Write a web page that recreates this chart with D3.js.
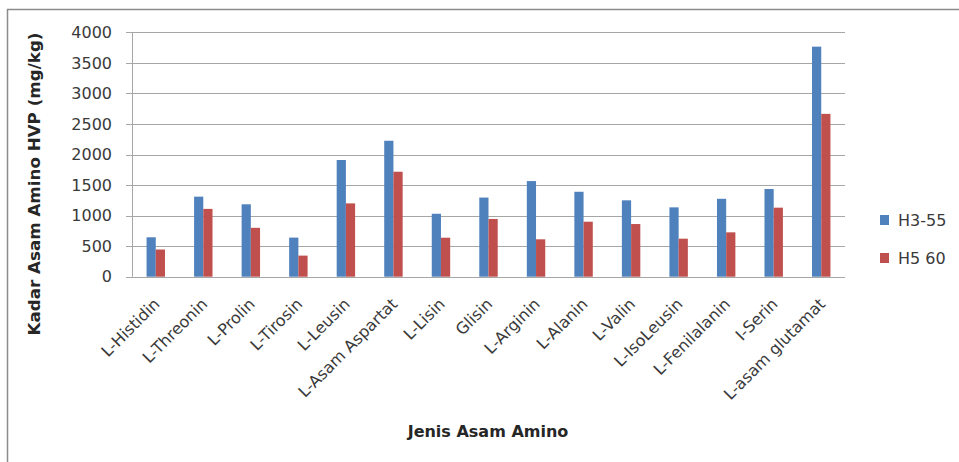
<!DOCTYPE html>
<html>
<head>
<meta charset="utf-8">
<script src="https://cdn.jsdelivr.net/npm/d3@7"></script>
<style>
  html, body { margin: 0; padding: 0; background: #fff; }
  svg { display: block; }
  text { font-family: "DejaVu Sans", sans-serif; }
</style>
</head>
<body>
<svg id="chart" width="959" height="462"></svg>
<script>
const categories = ["L-Histidin", "L-Threonin", "L-Prolin", "L-Tirosin", "L-Leusin", "L-Asam Aspartat", "L-Lisin", "Glisin", "L-Arginin", "L-Alanin", "L-Valin", "L-IsoLeusin", "L-Fenilalanin", "I-Serin", "L-asam glutamat"];
const seriesNames = ["H3-55", "H5 60"];
const h355 = [645, 1310, 1185, 640, 1910, 2225, 1030, 1295, 1565, 1390, 1250, 1135, 1275, 1435, 3765];
const h560 = [445, 1110, 800, 345, 1200, 1718, 638, 945, 612, 900, 862, 622, 726, 1130, 2665];
const yTicks = [0, 500, 1000, 1500, 2000, 2500, 3000, 3500, 4000];
const seriesColors = ["#4F81BD", "#C0504D"];
const yTitle = "Kadar Asam Amino HVP (mg/kg)";
const xTitle = "Jenis Asam Amino";

const values = [h355, h560];
const svg = d3.select("#chart");

// outer frame
svg.append("rect").attr("x", 7.5).attr("y", 9.5).attr("width", 1000).attr("height", 1000)
  .attr("fill", "#fff").attr("stroke", "#8c8c8c").attr("stroke-width", 1.5);

const plot = { left: 132, right: 845, top: 32.3, bottom: 276.7 };

const x = d3.scaleBand().domain(categories).range([plot.left, plot.right]).padding(0);
const xs = d3.scaleBand().domain(seriesNames).range([0, x.bandwidth()]).paddingInner(0).paddingOuter(1.58);
const y = d3.scaleLinear().domain([0, 4000]).range([plot.bottom, plot.top]);

// gridlines
svg.append("g").selectAll("line").data(yTicks).join("line")
  .attr("x1", plot.left - 6).attr("x2", plot.right)
  .attr("y1", d => Math.round(y(d)) + 0.5).attr("y2", d => Math.round(y(d)) + 0.5)
  .attr("stroke", "#a6a6a6").attr("stroke-width", 1);

// y axis line
svg.append("line").attr("x1", plot.left + 0.5).attr("x2", plot.left + 0.5)
  .attr("y1", plot.top).attr("y2", plot.bottom)
  .attr("stroke", "#a6a6a6");

// y tick labels
svg.append("g").selectAll("text").data(yTicks).join("text")
  .attr("x", 112).attr("y", d => y(d)).attr("dy", "0.36em")
  .attr("text-anchor", "end").attr("font-size", 16).attr("fill", "#3a3a3a")
  .text(d => d);

// bars
const groups = svg.append("g").selectAll("g").data(categories).join("g")
  .attr("transform", d => `translate(${x(d)},0)`);
groups.selectAll("rect").data((d, i) => seriesNames.map((s, j) => ({ s, v: values[j][i], j })))
  .join("rect")
  .attr("x", d => xs(d.s)).attr("width", xs.bandwidth())
  .attr("y", d => y(d.v)).attr("height", d => y(0) - y(d.v))
  .attr("fill", d => seriesColors[d.j]);

// x labels
svg.append("g").selectAll("text").data(categories).join("text")
  .attr("transform", d => `translate(${x(d) + x.bandwidth() / 2 + 5},305) rotate(-45)`)
  .attr("text-anchor", "end").attr("font-size", 16).attr("fill", "#3a3a3a")
  .text(d => d);

// axis titles
svg.append("text").attr("transform", "translate(40,184) rotate(-90)")
  .attr("text-anchor", "middle").attr("font-size", 16).attr("font-weight", "bold")
  .attr("fill", "#262626").attr("textLength", 303).attr("lengthAdjust", "spacingAndGlyphs")
  .text(yTitle);
svg.append("text").attr("x", 488).attr("y", 437)
  .attr("text-anchor", "middle").attr("font-size", 16).attr("font-weight", "bold")
  .attr("fill", "#262626")
  .text(xTitle);

// legend
const leg = svg.append("g").selectAll("g").data(seriesNames).join("g")
  .attr("transform", (d, i) => `translate(880,${220 + i * 38})`);
leg.append("rect").attr("x", 0).attr("y", -5).attr("width", 9).attr("height", 10)
  .attr("fill", (d, i) => seriesColors[i]);
leg.append("text").attr("x", 18).attr("y", 0).attr("dy", "0.36em")
  .attr("font-size", 16).attr("fill", "#3a3a3a").text(d => d);
</script>
</body>
</html>
